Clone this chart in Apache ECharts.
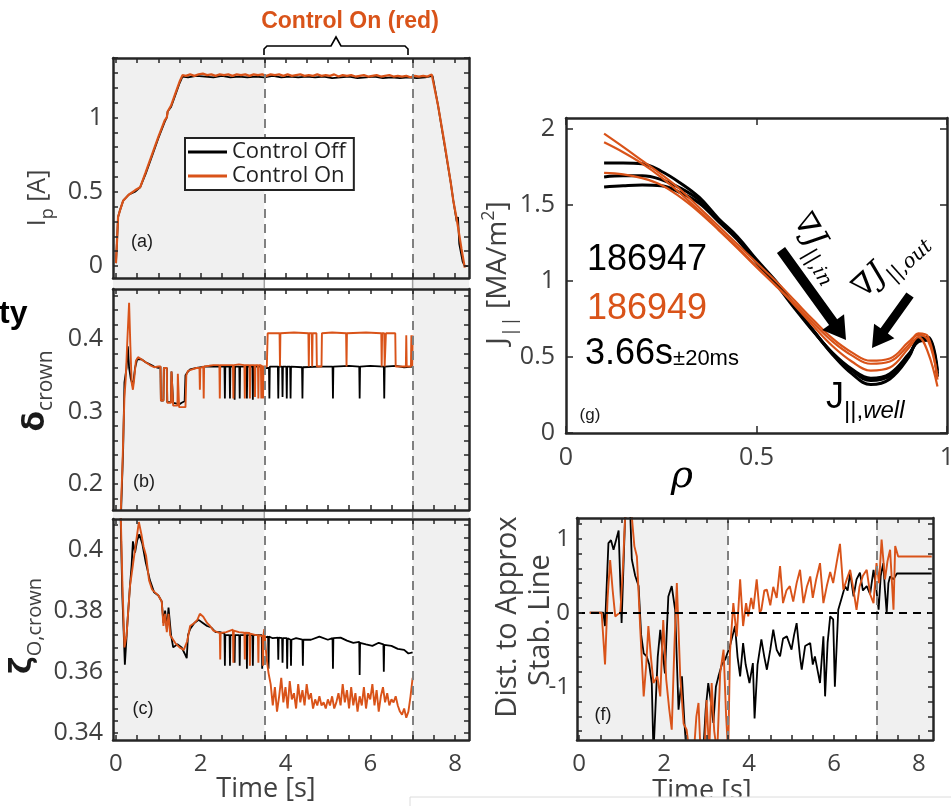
<!DOCTYPE html>
<html><head><meta charset="utf-8">
<script src="https://cdn.jsdelivr.net/npm/echarts@6/dist/echarts.min.js"></script>
<style>html,body{margin:0;padding:0;background:#fff;overflow:hidden}#c{width:951px;height:806px}</style>
</head><body><div id="c"></div>
<script>
// ---------------- DATA ----------------
const controlWindow = [3.5, 7.0];
const timeLabels = [0, 2, 4, 6, 8];
const ipLabels = [0, 0.5, 1];
const deltaLabels = [0.2, 0.3, 0.4];
const zetaLabels = [0.34, 0.36, 0.38, 0.4];
const distLabels = [-1, 0, 1];
const rhoLabels = [0, 0.5, 1];
const jLabels = [0, 0.5, 1, 1.5, 2];

// (a) plasma current
const ipOff = [[0.0,0.02],[0.03,0.2],[0.05,0.33],[0.1,0.38],[0.17,0.44],[0.3,0.48],[0.45,0.5],[0.57,0.53],[0.7,0.62],[0.85,0.74],[1.0,0.86],[1.15,0.97],[1.2,1.0],[1.22,1.04],[1.3,1.07],[1.4,1.15],[1.5,1.23],[1.57,1.275],[1.7,1.27],[1.9,1.28],[2.1,1.275],[2.3,1.27],[2.5,1.28],[2.7,1.27],[2.9,1.275],[3.1,1.27],[3.3,1.275],[3.5,1.27],[3.7,1.28],[3.9,1.27],[4.1,1.275],[4.3,1.27],[4.5,1.275],[4.7,1.27],[4.9,1.275],[5.1,1.265],[5.3,1.27],[5.5,1.275],[5.7,1.265],[5.9,1.27],[6.1,1.275],[6.3,1.265],[6.5,1.27],[6.7,1.265],[6.9,1.27],[7.1,1.265],[7.3,1.27],[7.47,1.28],[7.6,1.08],[7.75,0.82],[7.9,0.56],[7.96,0.44],[8.04,0.3],[8.07,0.33],[8.1,0.15],[8.18,0.03],[8.23,0.0],[8.3,0.0]];
const ipOn = [[0.0,0.02],[0.03,0.2],[0.05,0.33],[0.1,0.38],[0.17,0.44],[0.3,0.48],[0.45,0.51],[0.57,0.53],[0.7,0.63],[0.85,0.75],[1.0,0.87],[1.15,0.98],[1.2,1.0],[1.22,1.04],[1.3,1.08],[1.4,1.16],[1.5,1.24],[1.57,1.285],[1.65,1.28],[1.75,1.29],[1.85,1.28],[1.95,1.29],[2.05,1.295],[2.15,1.285],[2.25,1.29],[2.35,1.28],[2.45,1.29],[2.55,1.285],[2.65,1.29],[2.75,1.28],[2.85,1.29],[2.95,1.285],[3.05,1.29],[3.15,1.28],[3.25,1.29],[3.35,1.285],[3.45,1.29],[3.55,1.28],[3.65,1.29],[3.75,1.285],[3.85,1.29],[3.95,1.28],[4.05,1.29],[4.15,1.28],[4.25,1.285],[4.35,1.29],[4.45,1.28],[4.55,1.285],[4.65,1.28],[4.75,1.29],[4.85,1.28],[4.95,1.285],[5.05,1.28],[5.15,1.29],[5.25,1.275],[5.35,1.285],[5.45,1.28],[5.55,1.285],[5.65,1.275],[5.75,1.28],[5.85,1.285],[5.95,1.275],[6.05,1.28],[6.15,1.285],[6.25,1.275],[6.35,1.28],[6.45,1.285],[6.55,1.275],[6.65,1.28],[6.75,1.275],[6.85,1.28],[6.95,1.27],[7.05,1.28],[7.15,1.275],[7.25,1.28],[7.35,1.275],[7.45,1.29],[7.48,1.28],[7.6,1.08],[7.75,0.83],[7.9,0.56],[7.96,0.44],[8.05,0.3],[8.15,0.12],[8.23,-0.01]];

// (b) delta_crown
const deltaOff = [[0.05,0.1],[0.12,0.16],[0.17,0.25],[0.2,0.34],[0.25,0.36],[0.28,0.39],[0.31,0.36],[0.35,0.345],[0.4,0.335],[0.45,0.36],[0.5,0.372],[0.6,0.372],[0.7,0.368],[0.8,0.365],[0.9,0.362],[1.0,0.36],[1.05,0.362],[1.06,0.315],[1.12,0.315],[1.13,0.36],[1.2,0.36],[1.21,0.313],[1.3,0.313],[1.31,0.355],[1.34,0.355],[1.35,0.312],[1.5,0.31],[1.55,0.312],[1.62,0.314],[1.64,0.35],[1.7,0.355],[1.75,0.358],[1.9,0.36],[2.1,0.362],[2.3,0.362],[2.56,0.362],[2.57,0.318],[2.58,0.362],[2.68,0.362],[2.69,0.318],[2.7,0.362],[2.79,0.362],[2.8,0.316],[2.81,0.362],[2.91,0.362],[2.92,0.318],[2.93,0.362],[3.08,0.362],[3.09,0.318],[3.1,0.362],[3.22,0.362],[3.23,0.316],[3.24,0.362],[3.4,0.362],[3.5,0.36],[3.61,0.36],[3.62,0.318],[3.63,0.362],[3.82,0.362],[3.83,0.318],[3.84,0.362],[3.92,0.362],[3.93,0.32],[3.94,0.362],[4.02,0.362],[4.03,0.318],[4.04,0.362],[4.11,0.362],[4.12,0.318],[4.13,0.362],[4.39,0.361],[4.4,0.318],[4.41,0.361],[4.8,0.362],[5.11,0.362],[5.12,0.318],[5.13,0.362],[5.5,0.363],[5.74,0.362],[5.75,0.318],[5.76,0.362],[6.0,0.363],[6.32,0.362],[6.33,0.318],[6.34,0.362],[6.6,0.363],[6.8,0.361],[7.0,0.362]];
const deltaOn = [[0.05,0.1],[0.1,0.14],[0.15,0.22],[0.2,0.32],[0.23,0.345],[0.27,0.4],[0.31,0.45],[0.34,0.39],[0.37,0.34],[0.4,0.33],[0.43,0.345],[0.47,0.37],[0.52,0.375],[0.6,0.372],[0.7,0.368],[0.8,0.364],[0.9,0.361],[1.0,0.362],[1.05,0.362],[1.06,0.315],[1.12,0.315],[1.13,0.36],[1.2,0.36],[1.21,0.312],[1.3,0.312],[1.31,0.355],[1.34,0.355],[1.35,0.308],[1.45,0.308],[1.46,0.352],[1.48,0.352],[1.49,0.306],[1.64,0.306],[1.66,0.35],[1.7,0.356],[1.8,0.358],[1.9,0.36],[1.97,0.36],[1.98,0.33],[1.99,0.36],[2.06,0.362],[2.07,0.318],[2.08,0.362],[2.2,0.363],[2.3,0.364],[2.44,0.364],[2.45,0.318],[2.46,0.364],[2.6,0.364],[2.76,0.364],[2.77,0.318],[2.78,0.364],[2.9,0.365],[3.03,0.364],[3.04,0.318],[3.05,0.364],[3.15,0.364],[3.16,0.318],[3.17,0.364],[3.27,0.364],[3.28,0.32],[3.29,0.364],[3.35,0.364],[3.36,0.318],[3.37,0.364],[3.42,0.364],[3.43,0.318],[3.44,0.364],[3.46,0.364],[3.47,0.318],[3.48,0.362],[3.56,0.362],[3.58,0.408],[3.86,0.408],[3.87,0.362],[3.88,0.408],[4.2,0.409],[4.54,0.408],[4.55,0.362],[4.56,0.408],[4.62,0.408],[4.63,0.362],[4.64,0.408],[4.73,0.408],[4.74,0.362],[4.85,0.362],[4.86,0.408],[5.1,0.409],[5.43,0.408],[5.44,0.362],[5.45,0.408],[5.9,0.409],[6.26,0.408],[6.27,0.362],[6.28,0.408],[6.33,0.408],[6.34,0.362],[6.36,0.362],[6.37,0.408],[6.59,0.408],[6.6,0.362],[6.84,0.362],[6.85,0.405],[6.86,0.362],[6.96,0.362],[6.97,0.405],[6.99,0.362],[7.0,0.405]];

// (c) zeta_O,crown
const zetaOff = [[0.08,0.43],[0.15,0.385],[0.21,0.3623],[0.27,0.376],[0.33,0.388],[0.37,0.395],[0.4,0.4027],[0.45,0.399],[0.5,0.403],[0.55,0.405],[0.62,0.402],[0.7,0.396],[0.8,0.39],[0.9,0.386],[1.0,0.385],[1.08,0.383],[1.12,0.376],[1.16,0.38],[1.2,0.374],[1.24,0.381],[1.3,0.372],[1.35,0.368],[1.45,0.369],[1.55,0.368],[1.62,0.366],[1.67,0.3645],[1.7,0.372],[1.75,0.374],[1.85,0.376],[1.95,0.377],[2.05,0.376],[2.15,0.375],[2.25,0.3745],[2.35,0.373],[2.45,0.373],[2.56,0.3725],[2.57,0.362],[2.58,0.372],[2.68,0.372],[2.69,0.362],[2.7,0.372],[2.79,0.372],[2.8,0.363],[2.81,0.372],[2.91,0.372],[2.92,0.362],[2.93,0.372],[3.08,0.372],[3.09,0.361],[3.1,0.372],[3.22,0.372],[3.23,0.362],[3.24,0.372],[3.44,0.372],[3.45,0.361],[3.46,0.371],[3.59,0.3715],[3.6,0.361],[3.61,0.3715],[3.7,0.371],[3.82,0.3712],[3.83,0.364],[3.84,0.3712],[3.92,0.371],[3.93,0.363],[3.94,0.371],[4.03,0.371],[4.04,0.361],[4.05,0.371],[4.12,0.3705],[4.13,0.362],[4.14,0.3705],[4.25,0.371],[4.4,0.3705],[4.41,0.362],[4.42,0.3705],[4.6,0.3705],[4.8,0.3715],[5.0,0.3705],[5.11,0.371],[5.12,0.361],[5.13,0.371],[5.3,0.3712],[5.45,0.3702],[5.6,0.3695],[5.74,0.3698],[5.75,0.359],[5.76,0.3695],[5.9,0.369],[6.05,0.3685],[6.2,0.3695],[6.31,0.369],[6.32,0.36],[6.33,0.3688],[6.5,0.3685],[6.65,0.3675],[6.8,0.3672],[6.9,0.366],[7.0,0.3664]];
const zetaOn = [[0.08,0.43],[0.15,0.39],[0.2,0.368],[0.25,0.372],[0.33,0.388],[0.4,0.395],[0.47,0.402],[0.54,0.409],[0.6,0.405],[0.65,0.401],[0.71,0.398],[0.78,0.39],[0.85,0.387],[0.92,0.386],[1.0,0.385],[1.08,0.383],[1.12,0.375],[1.16,0.379],[1.2,0.373],[1.24,0.379],[1.28,0.372],[1.32,0.3716],[1.4,0.3694],[1.5,0.368],[1.6,0.3672],[1.68,0.37],[1.75,0.375],[1.85,0.376],[1.92,0.377],[1.98,0.379],[2.06,0.378],[2.15,0.376],[2.22,0.375],[2.3,0.3735],[2.45,0.3727],[2.46,0.364],[2.47,0.3727],[2.6,0.373],[2.76,0.3738],[2.77,0.363],[2.78,0.3735],[2.9,0.373],[3.03,0.3728],[3.04,0.364],[3.05,0.3728],[3.15,0.3727],[3.16,0.362],[3.17,0.3725],[3.3,0.372],[3.35,0.372],[3.36,0.363],[3.37,0.372],[3.46,0.3716],[3.47,0.362],[3.48,0.372],[3.5,0.374],[3.55,0.365],[3.6,0.3596],[3.65,0.356],[3.7,0.349],[3.75,0.355],[3.8,0.347],[3.85,0.352],[3.9,0.358],[3.95,0.350],[4.0,0.355],[4.05,0.348],[4.1,0.357],[4.15,0.351],[4.2,0.353],[4.25,0.348],[4.3,0.356],[4.35,0.350],[4.4,0.354],[4.45,0.349],[4.5,0.356],[4.55,0.351],[4.6,0.353],[4.65,0.348],[4.7,0.351],[4.75,0.349],[4.8,0.352],[4.85,0.349],[4.9,0.350],[4.95,0.348],[5.0,0.351],[5.05,0.349],[5.1,0.352],[5.15,0.348],[5.2,0.350],[5.25,0.353],[5.3,0.349],[5.35,0.356],[5.4,0.350],[5.45,0.354],[5.5,0.348],[5.55,0.355],[5.6,0.349],[5.65,0.353],[5.7,0.347],[5.75,0.352],[5.8,0.349],[5.85,0.355],[5.9,0.348],[5.95,0.353],[6.0,0.351],[6.05,0.356],[6.1,0.349],[6.15,0.354],[6.2,0.347],[6.25,0.352],[6.3,0.355],[6.35,0.350],[6.4,0.353],[6.45,0.349],[6.5,0.351],[6.55,0.350],[6.6,0.352],[6.65,0.349],[6.7,0.347],[6.75,0.346],[6.8,0.348],[6.85,0.345],[6.9,0.347],[6.95,0.352],[7.0,0.358]];

// (f) distance to approx. stability line
const distOff = [[0.25,0],[0.57,0],[0.61,-0.18],[0.69,0.94],[0.75,0.98],[0.81,0.85],[0.93,1.11],[1.0,-0.14],[1.08,1.26],[1.12,1.4],[1.2,1.4],[1.24,0.72],[1.32,0.5],[1.4,0.36],[1.46,-0.3],[1.52,-0.55],[1.59,-0.59],[1.65,-0.7],[1.71,-0.95],[1.75,-1.9],[1.79,-1.9],[1.85,-0.6],[1.91,-0.23],[1.96,-0.5],[2.02,-0.82],[2.1,0.22],[2.18,0.36],[2.26,0.04],[2.34,-1.31],[2.42,-0.86],[2.48,-1.5],[2.53,-1.9],[2.92,-1.9],[2.98,-1.3],[3.04,-0.95],[3.1,-1.2],[3.16,-1.49],[3.22,-1.0],[3.28,-0.86],[3.36,-0.7],[3.44,-0.63],[3.55,-0.45],[3.67,-0.18],[3.73,-0.6],[3.79,-0.86],[3.86,-0.41],[3.92,-0.7],[4.01,-0.95],[4.09,-0.68],[4.13,-1.43],[4.2,-0.7],[4.29,-0.36],[4.36,-0.6],[4.42,-0.77],[4.5,-0.5],[4.57,-0.23],[4.65,-0.5],[4.73,-0.59],[4.8,-0.35],[4.89,-0.32],[5.0,-0.5],[5.06,-0.3],[5.12,-0.14],[5.2,-0.6],[5.24,-0.77],[5.32,-0.45],[5.44,-0.41],[5.5,-0.7],[5.55,-0.59],[5.62,-0.8],[5.67,-0.95],[5.75,-0.32],[5.79,-1.13],[5.85,-0.4],[5.91,-0.05],[5.98,-0.09],[6.02,-1.0],[6.1,0.04],[6.18,0.2],[6.26,0.36],[6.32,0.3],[6.38,0.54],[6.46,0.22],[6.53,0.45],[6.61,0.54],[6.68,0.3],[6.77,0.36],[6.85,0.25],[6.93,0.58],[7.0,0.3],[7.05,0.04],[7.1,0.5],[7.16,0.67],[7.2,0.3],[7.24,0.0],[7.28,0.4],[7.32,0.49],[7.4,0.45],[7.48,0.53],[8.3,0.53]];
const distOn = [[0.25,0],[0.53,0],[0.61,-0.7],[0.67,0.2],[0.73,0.71],[0.79,0.3],[0.85,-0.05],[0.91,-0.02],[0.97,0],[1.03,0.6],[1.08,1.26],[1.12,1.4],[1.24,1.3],[1.3,0.9],[1.36,0.76],[1.44,-0.23],[1.52,-1.13],[1.58,-0.7],[1.63,-0.18],[1.69,-0.6],[1.75,-0.95],[1.84,-0.86],[1.91,-1.13],[1.98,-0.1],[2.05,-0.9],[2.12,-1.3],[2.18,-1.58],[2.24,-0.5],[2.3,0.4],[2.38,-0.86],[2.46,-1.5],[2.53,-1.58],[2.6,-1.9],[2.7,-1.9],[2.76,-1.4],[2.81,-1.22],[2.86,-1.9],[2.95,-1.9],[3.0,-1.18],[3.06,-1.9],[3.12,-0.95],[3.18,-1.6],[3.25,-1.9],[3.32,-0.82],[3.4,-0.5],[3.46,-1.4],[3.51,-1.9],[3.55,-0.54],[3.63,0.13],[3.71,-0.32],[3.79,0.45],[3.86,-0.18],[3.93,0.13],[3.98,-0.05],[4.05,0.2],[4.1,0.05],[4.18,0.45],[4.25,0.0],[4.29,0.04],[4.36,0.3],[4.42,0.31],[4.5,0.1],[4.57,0.35],[4.65,0.2],[4.73,0.63],[4.8,0.13],[4.88,0.3],[4.96,0.36],[5.04,0.15],[5.12,0.4],[5.2,0.58],[5.28,0.13],[5.36,0.35],[5.44,0.49],[5.5,0.2],[5.58,0.45],[5.67,0.67],[5.75,0.13],[5.83,0.36],[5.91,0.55],[5.98,0.4],[6.06,0.67],[6.14,0.93],[6.22,0.31],[6.3,0.45],[6.38,0.58],[6.46,0.3],[6.53,0.04],[6.6,0.35],[6.68,0.5],[6.77,0.58],[6.85,0.25],[6.93,0.13],[7.0,0.67],[7.06,0.4],[7.12,0.99],[7.2,0.45],[7.26,0.7],[7.32,0.85],[7.4,0.04],[7.44,0.9],[7.51,0.76],[8.3,0.76]];

// (g) J_parallel profiles vs rho
const rhoGrid = [0.1,0.15,0.2,0.25,0.3,0.35,0.4,0.45,0.5,0.55,0.6,0.65,0.7,0.75,0.8,0.85,0.9,0.925,0.95,0.975];
const j47a = [1.774,1.775,1.77,1.72,1.643,1.548,1.41,1.29,1.14,1.0,0.835,0.67,0.515,0.39,0.318,0.355,0.5,0.62,0.63,0.41];
const j47b = [1.683,1.69,1.69,1.665,1.61,1.53,1.40,1.28,1.13,0.99,0.83,0.67,0.52,0.41,0.345,0.375,0.51,0.61,0.62,0.39];
const j47c = [1.617,1.625,1.63,1.625,1.58,1.51,1.39,1.27,1.12,0.98,0.82,0.665,0.525,0.42,0.36,0.39,0.52,0.6,0.61,0.37];
const j49a = [1.967,1.88,1.79,1.70,1.60,1.48,1.36,1.24,1.12,1.0,0.87,0.74,0.62,0.53,0.475,0.49,0.6,0.645,0.61,0.37];
const j49b = [1.91,1.845,1.77,1.68,1.575,1.46,1.34,1.22,1.095,0.97,0.84,0.7,0.57,0.47,0.41,0.43,0.56,0.63,0.53,0.305];
const j49c = [1.71,1.70,1.675,1.63,1.55,1.45,1.335,1.215,1.09,0.97,0.85,0.72,0.6,0.51,0.455,0.47,0.58,0.655,0.635,0.35];

// ---------------- CHART ----------------
const BLACK = '#000000', ORANGE = '#d95319', AXC = '#262626', TXT = '#404040';
function steps(a, b, s) { const o = []; for (let v = a; v <= b + 1e-9; v += s) o.push(+v.toFixed(4)); return o; }

const grids = [
  {left:113, top:58,  width:356, height:220},
  {left:113, top:289, width:356, height:221},
  {left:113, top:519, width:356, height:221},
  {left:566, top:118, width:381, height:315},
  {left:577, top:518, width:356, height:222}
].map(g => Object.assign({show:false, containLabel:false, outerBoundsMode:'none'}, g));

function axisPair(kind, gi, min, max, labels, ticks, showLabels, fs, margin, tickLen) {
  const mk = (pos, lab) => ({
    type:'value', gridIndex:gi, min, max, position:pos, z:10,
    splitLine:{show:false},
    axisLine:{show:true, onZero:false, lineStyle:{color:AXC, width:2.5}},
    axisTick:{show:true, inside:true, length:tickLen || 5, customValues:ticks, lineStyle:{color:AXC, width:1.5}},
    axisLabel:{show:lab, customValues:labels, margin:margin, fontSize:fs, color:TXT, fontFamily:'Open Sans'}
  });
  return kind === 'x' ? [mk('bottom', showLabels), mk('top', false)] : [mk('left', showLabels), mk('right', false)];
}
const tTicks = steps(0, 8, 0.5);
const T_MIN = -0.07, T_MAX = 8.33;
const xAxes = [
  ...axisPair('x', 0, T_MIN, T_MAX, timeLabels, tTicks, false, 24, 12),
  ...axisPair('x', 1, T_MIN, T_MAX, timeLabels, tTicks, false, 24, 12),
  ...axisPair('x', 2, T_MIN, T_MAX, timeLabels, tTicks, true, 24, 12),
  ...axisPair('x', 3, 0, 1, rhoLabels, [0, 0.5, 1], true, 25, 12, 7),
  ...axisPair('x', 4, -0.05, 8.33, timeLabels, tTicks, true, 24, 12)
];
const yAxes = [
  ...axisPair('y', 0, -0.08, 1.40, ipLabels, steps(0, 1.4, 0.1), true, 25, 10),
  ...axisPair('y', 1, 0.164, 0.469, deltaLabels, steps(0.18, 0.46, 0.02), true, 25, 10),
  ...axisPair('y', 2, 0.3377, 0.410, zetaLabels, steps(0.34, 0.408, 0.004), true, 25, 10),
  ...axisPair('y', 3, 0, 2.07, jLabels, [0, 0.5, 1, 1.5, 2], true, 25, 11, 7),
  ...axisPair('y', 4, -1.72, 1.28, distLabels, steps(-1.6, 1.2, 0.2), true, 24, 7)
];

function line(name, k, data, color, width, z, smooth) {
  return {name, type:'line', xAxisIndex:2*k, yAxisIndex:2*k, data, color, symbol:'none', showSymbol:false,
    smooth: smooth || false, lineStyle:{color, width}, z, silent:true, animation:false};
}
function shading(k, xmin, xmax, ymin) {
  return {type:'line', xAxisIndex:2*k, yAxisIndex:2*k, data:[[xmin, ymin]], symbol:'none', lineStyle:{opacity:0}, z:1, silent:true,
    markArea:{silent:true, itemStyle:{color:'#f0f0f0'}, data:[[{xAxis:xmin},{xAxis:controlWindow[0]}],[{xAxis:controlWindow[1]},{xAxis:xmax}]]}};
}
function dashes(k, xmin, ymin) {
  return {type:'line', xAxisIndex:2*k, yAxisIndex:2*k, data:[[xmin, ymin]], symbol:'none', lineStyle:{opacity:0}, z:2, silent:true,
    markLine:{silent:true, symbol:['none','none'], label:{show:false}, lineStyle:{color:'#808080', width:2, type:[9,6]},
      data:[{xAxis:controlWindow[0]},{xAxis:controlWindow[1]}]}};
}
const series = [
  shading(0, T_MIN, T_MAX, 0), dashes(0, T_MIN, 0),
  shading(1, T_MIN, T_MAX, 0.3), dashes(1, T_MIN, 0.3),
  shading(2, T_MIN, T_MAX, 0.36), dashes(2, T_MIN, 0.36),
  shading(4, -0.05, 8.33, 0), dashes(4, -0.05, 0),
  line('Control Off', 0, ipOff, BLACK, 1.8, 3), line('Control On', 0, ipOn, ORANGE, 2.2, 4),
  line('Control Off', 1, deltaOff, BLACK, 1.8, 3), line('Control On', 1, deltaOn, ORANGE, 1.9, 4),
  line('Control Off', 2, zetaOff, BLACK, 1.8, 3), line('Control On', 2, zetaOn, ORANGE, 1.9, 4),
  line('Control Off', 4, distOff, BLACK, 1.8, 3), line('Control On', 4, distOn, ORANGE, 1.9, 4),
  {type:'line', xAxisIndex:8, yAxisIndex:8, data:[[0,0]], symbol:'none', lineStyle:{opacity:0}, z:5, silent:true,
    markLine:{silent:true, symbol:['none','none'], label:{show:false}, lineStyle:{color:'#000', width:2, type:[8,6]}, data:[{yAxis:0}]}},
  line('186947 a', 3, rhoGrid.map((r,i)=>[r, j47a[i]]), BLACK, 3, 3, 0.4),
  line('186947 b', 3, rhoGrid.map((r,i)=>[r, j47b[i]]), BLACK, 3, 3, 0.4),
  line('186947 c', 3, rhoGrid.map((r,i)=>[r, j47c[i]]), BLACK, 3, 3, 0.4),
  line('186949 a', 3, rhoGrid.map((r,i)=>[r, j49a[i]]), ORANGE, 2.2, 4, 0.4),
  line('186949 b', 3, rhoGrid.map((r,i)=>[r, j49b[i]]), ORANGE, 2.2, 4, 0.4),
  line('186949 c', 3, rhoGrid.map((r,i)=>[r, j49c[i]]), ORANGE, 2.2, 4, 0.4)
];

// ---------------- TEXT / ANNOTATION HELPERS ----------------
const mctx = document.createElement('canvas').getContext('2d');
function fontStr(s) { return `${s.it ? 'italic' : 'normal'} ${s.w || 'normal'} ${s.size}px "${s.fam || 'Open Sans'}"`; }
// rotDeg: clockwise-positive screen angle
function tg(x, y, rotDeg, segs, align) {
  const widths = segs.map(s => { mctx.font = fontStr(s); return mctx.measureText(s.t).width; });
  const total = widths.reduce((a, b) => a + b, 0);
  let cur = align === 'left' ? 0 : (align === 'right' ? -total : -total / 2);
  const children = segs.map((s, i) => {
    const el = {type:'text', x:cur, y:(s.dy || 0) - 0.35 * s.size, z:100, silent:true,
      style:{text:s.t, fontSize:s.size, fontFamily:s.fam || 'Open Sans', fontWeight:s.w || 'normal',
        fontStyle:s.it ? 'italic' : 'normal', fill:s.c || TXT, align:'left', verticalAlign:'middle'}};
    cur += widths[i];
    return el;
  });
  return {type:'group', x, y, rotation:-rotDeg * Math.PI / 180, z:100, silent:true, children};
}
function arrow(tail, tip, shaftW, headL, headW) {
  const dx = tip[0]-tail[0], dy = tip[1]-tail[1], L = Math.hypot(dx, dy);
  const ux = dx/L, uy = dy/L, px = -uy, py = ux;
  const bx = tip[0]-ux*headL, by = tip[1]-uy*headL;
  const pts = [[tail[0]+px*shaftW/2, tail[1]+py*shaftW/2],[bx+px*shaftW/2, by+py*shaftW/2],[bx+px*headW/2, by+py*headW/2],
    tip,[bx-px*headW/2, by-py*headW/2],[bx-px*shaftW/2, by-py*shaftW/2],[tail[0]-px*shaftW/2, tail[1]-py*shaftW/2]];
  return {type:'polygon', z:100, silent:true, shape:{points:pts}, style:{fill:'#000'}};
}
const SERIF = 'DejaVu Serif', HELV = 'Liberation Sans';
const graphics = [
  tg(350, 30, 0, [{t:'Control On (red)', size:23, w:'bold', fam:HELV, c:ORANGE}], 'center'),
  {type:'polyline', z:100, silent:true, shape:{points:[[264,55],[264,49],[267,46],[331,46],[336,37],[341,46],[405,46],[408,49],[408,55]]},
    style:{fill:null, stroke:'#000', lineWidth:1.6}},
  tg(-1, 325, 0, [{t:'ty', size:32, w:'bold', fam:HELV, c:'#000'}], 'left'),
  // y-axis titles (rotated to read bottom-to-top)
  tg(47, 198, -90, [{t:'I', size:25}, {t:'p', size:18, dy:7}, {t:' [A]', size:25}], 'center'),
  tg(47, 391, -90, [{t:'δ', size:30, w:'bold', fam:'DejaVu Sans', c:'#1a1a1a'}, {t:'crown', size:21, dy:6}], 'center'),
  tg(34, 626, -90, [{t:'ζ', size:30, w:'bold', fam:'DejaVu Sans', c:'#1a1a1a'}, {t:'O,crown', size:20, dy:8}], 'center'),
  tg(518, 617, -90, [{t:'Dist. to Approx', size:29}], 'center'),
  tg(551, 620, -90, [{t:'Stab. Line', size:29}], 'center'),
  tg(508, 273, -90, [{t:'J', size:28}, {t:'||', size:19, dy:9}, {t:' [MA/m', size:28}, {t:'2', size:18, dy:-13}, {t:']', size:28}], 'center'),
  // x-axis titles
  tg(266, 799, 0, [{t:'Time [s]', size:27}], 'center'),
  tg(702, 801, 0, [{t:'Time [s]', size:27}], 'center'),
  tg(682, 490, 0, [{t:'ρ', size:38, it:true, fam:SERIF, c:'#000'}], 'center'),
  // panel tags
  tg(142, 248, 0, [{t:'(a)', size:18, fam:HELV, c:'#1a1a1a'}], 'center'),
  tg(144, 488, 0, [{t:'(b)', size:18, fam:HELV, c:'#1a1a1a'}], 'center'),
  tg(143, 715, 0, [{t:'(c)', size:18, fam:HELV, c:'#1a1a1a'}], 'center'),
  tg(603, 721, 0, [{t:'(f)', size:18, fam:HELV, c:'#1a1a1a'}], 'center'),
  tg(590, 421, 0, [{t:'(g)', size:17, fam:HELV, c:'#1a1a1a'}], 'center'),
  // panel (g) annotations
  tg(587, 273, 0, [{t:'186947', size:36, fam:HELV, c:'#000'}], 'left'),
  tg(587, 322, 0, [{t:'186949', size:36, fam:HELV, c:ORANGE}], 'left'),
  tg(585, 367, 0, [{t:'3.66s', size:36, fam:HELV, c:'#000'}, {t:'±20ms', size:22, fam:HELV, c:'#000'}], 'left'),
  arrow([781, 250], [846, 340], 10, 22, 27),
  arrow([910, 295], [872, 348], 9, 21, 25),
  tg(809, 253, 60, [{t:'∇', size:30, fam:SERIF, c:'#000'}, {t:'J', size:32, it:true, fam:SERIF, c:'#000'}, {t:'||,', size:20, fam:SERIF, c:'#000', dy:8}, {t:'in', size:20, it:true, fam:SERIF, c:'#000', dy:8}], 'center'),
  tg(897, 272, -42, [{t:'∇', size:30, fam:SERIF, c:'#000'}, {t:'J', size:32, it:true, fam:SERIF, c:'#000'}, {t:'||,', size:20, fam:SERIF, c:'#000', dy:8}, {t:'out', size:20, it:true, fam:SERIF, c:'#000', dy:8}], 'center'),
  tg(826, 411, 0, [{t:'J', size:36, fam:HELV, c:'#000'}, {t:'||,', size:24, fam:HELV, c:'#000', dy:9}, {t:'well', size:24, it:true, fam:HELV, c:'#000', dy:9}], 'left'),
  // bottom overlay box
  {type:'rect', z:110, silent:true, shape:{x:410, y:797, width:560, height:30}, style:{fill:'#fff', stroke:'#dcdcdc', lineWidth:1}}
];

const chart = echarts.init(document.getElementById('c'), null, {renderer:'canvas'});
const baseOption = {
  animation:false,
  backgroundColor:'#fff',
  textStyle:{fontFamily:'Open Sans'},
  grid:grids, xAxis:xAxes, yAxis:yAxes, series,
  legend:{data:['Control Off','Control On'], left:185, top:138, orient:'vertical', icon:'rect', itemWidth:39, itemHeight:3,
    itemGap:2, padding:[3,8,3,3], borderColor:'#222', borderWidth:2, borderRadius:0, backgroundColor:'#fff', selectedMode:false, z:20,
    textStyle:{fontSize:22, fontFamily:'Open Sans', color:'#222'}},
  graphic:{elements:graphics}
};
chart.setOption(baseOption);

// shading continues through the narrow gaps between stacked panels (a)/(b) and (b)/(c)
const xp = v => chart.convertToPixel({xAxisIndex:0}, v);
const gapBands = [[279.5, 288], [511.5, 518]];
const gapEls = [];
gapBands.forEach(([y0, y1]) => {
  [[T_MIN, controlWindow[0]], [controlWindow[1], T_MAX]].forEach(([a, b]) => {
    gapEls.push({type:'rect', z:1, silent:true, shape:{x:xp(a), y:y0, width:xp(b) - xp(a), height:y1 - y0}, style:{fill:'#f0f0f0'}});
  });
  controlWindow.forEach(t => {
    gapEls.push({type:'line', z:2, silent:true, shape:{x1:xp(t), y1:y0, x2:xp(t), y2:y1}, style:{stroke:'#a0a0a0', lineWidth:1.5}});
  });
});
chart.setOption({graphic:{elements:graphics.concat(gapEls)}});
</script></body></html>
